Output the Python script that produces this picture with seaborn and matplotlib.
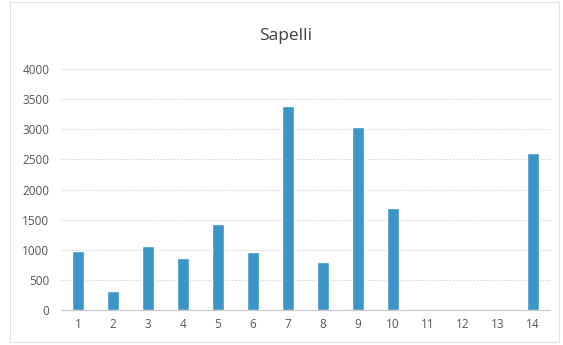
import matplotlib.pyplot as plt
import seaborn as sns
import pandas as pd

# Values
categories = [str(i) for i in range(1, 15)]
values = [980, 320, 1070, 870, 1420, 970, 3380, 800, 3040, 1700, 0, 0, 0, 2600]
yticks = [0, 500, 1000, 1500, 2000, 2500, 3000, 3500, 4000]

df = pd.DataFrame({'sample': categories, 'volume': values})

sns.set_theme(style='white')
plt.rcParams['font.family'] = ['Open Sans', 'DejaVu Sans']

fig = plt.figure(figsize=(5.63, 3.45), dpi=100)
ax = fig.add_axes([0.1075, 0.1014, 0.870, 0.6986])

sns.barplot(data=df, x='sample', y='volume', color='#3b95c6', saturation=1,
            width=0.36, ax=ax, zorder=3)

ax.set_ylim(0, 4000)
ax.set_xlim(-0.5, len(categories) - 0.5)
ax.set_yticks(yticks)
ax.yaxis.grid(True, color='#d9d9d9', linewidth=0.7, linestyle=(0, (2, 1.5)), zorder=0)
ax.set_xlabel('')
ax.set_ylabel('')

for side in ['top', 'right', 'left']:
    ax.spines[side].set_visible(False)
ax.spines['bottom'].set_color('#c8c8c8')
ax.spines['bottom'].set_linewidth(0.8)

ax.tick_params(axis='both', length=0, labelsize=8.5, labelcolor='#555555')
ax.tick_params(axis='x', pad=6)
ax.tick_params(axis='y', pad=8)

fig.text(0.507, 0.895, 'Sapelli', ha='center', va='center', fontsize=12.5, color='#404040')

# faint chart border like the scanned Excel frame
fig.patches.append(plt.Rectangle((0.018, 0.01), 0.975, 0.985, transform=fig.transFigure,
                                 fill=False, edgecolor='#e0e0e0', linewidth=0.8))

plt.savefig('out.png', dpi=100)
